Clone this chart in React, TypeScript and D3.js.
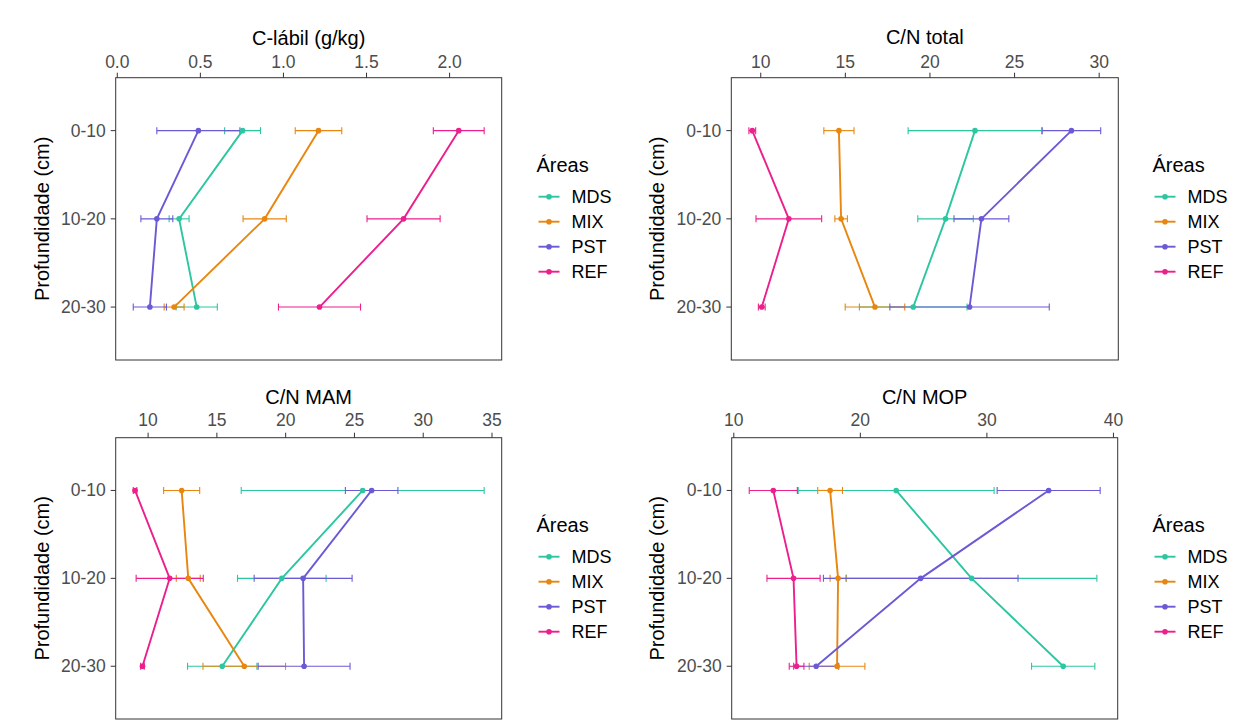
import React from "react";
import * as d3 from "d3";

// Soil depth layers and land-use areas
const depths = ["0-10", "10-20", "20-30"];
const areas = ["MDS", "MIX", "PST", "REF"];
const areaColors = ["#2cc6a0", "#e8860f", "#6a5ad6", "#ec1f8d"];

// Labile carbon (g/kg): means and standard errors per area (MDS, MIX, PST, REF)
const clabilMean = [
  [0.754, 0.372, 0.478],
  [1.211, 0.887, 0.342],
  [0.488, 0.238, 0.196],
  [2.055, 1.723, 1.217],
];
const clabilSe = [
  [0.108, 0.06, 0.124],
  [0.14, 0.13, 0.06],
  [0.25, 0.096, 0.1],
  [0.153, 0.22, 0.247],
];
const clabilTicks = [0, 0.5, 1, 1.5, 2];

// Total C/N ratio
const cnTotalMean = [
  [22.66, 20.92, 19.01],
  [14.62, 14.75, 16.75],
  [28.36, 23.04, 22.34],
  [9.5, 11.66, 10.06],
];
const cnTotalSe = [
  [3.95, 1.64, 3.18],
  [0.89, 0.37, 1.76],
  [1.73, 1.62, 4.71],
  [0.2, 1.94, 0.2],
];
const cnTotalTicks = [10, 15, 20, 25, 30];

// C/N of mineral-associated organic matter
const cnMamMean = [
  [25.6, 19.72, 15.39],
  [12.44, 12.92, 16.99],
  [26.25, 21.27, 21.34],
  [9.05, 11.57, 9.59],
];
const cnMamSe = [
  [8.83, 3.22, 2.52],
  [1.31, 0.87, 3.0],
  [1.91, 3.56, 3.34],
  [0.13, 2.44, 0.13],
];
const cnMamTicks = [10, 15, 20, 25, 30, 35];

// C/N of particulate organic matter
const cnMopMean = [
  [22.83, 28.79, 36.03],
  [17.61, 18.24, 18.16],
  [34.88, 24.77, 16.51],
  [13.12, 14.72, 14.96],
];
const cnMopSe = [
  [7.74, 9.9, 2.5],
  [0.98, 0.63, 2.2],
  [4.07, 7.69, 1.78],
  [1.9, 2.1, 0.58],
];
const cnMopTicks = [10, 20, 30, 40];

const FONT = "'Liberation Sans', Arial, Helvetica, sans-serif";
const TICK_COLOR = "#4d4d4d";

type PanelProps = {
  title: string;
  mean: number[][];
  se: number[][];
  ticks: number[];
  fmt: (v: number) => string;
  left: number;
  top: number;
  width: number;
  height: number;
  titleY: number;
  tickY: number;
  yTitleX: number;
  legendX: number;
};

function Panel(p: PanelProps) {
  const lows: number[] = [];
  const highs: number[] = [];
  p.mean.forEach((row, i) =>
    row.forEach((m, j) => {
      lows.push(m - p.se[i][j]);
      highs.push(m + p.se[i][j]);
    })
  );
  const lo = d3.min(lows) as number;
  const hi = d3.max(highs) as number;
  const pad = (hi - lo) * 0.05;
  const x = d3
    .scaleLinear()
    .domain([lo - pad, hi + pad])
    .range([p.left, p.left + p.width]);
  const y = d3
    .scalePoint<string>()
    .domain(depths)
    .range([p.top, p.top + p.height])
    .padding(0.6);

  const line = d3
    .line<[number, string]>()
    .x((d) => x(d[0]))
    .y((d) => y(d[1]) as number);

  const cap = 3.5;
  const legendTop = p.top + 87.3;

  return (
    <g>
      <text
        x={p.left + p.width / 2}
        y={p.titleY}
        textAnchor="middle"
        dominantBaseline="central"
        fontSize={20}
        fill="#000"
      >
        {p.title}
      </text>
      {p.ticks.map((t) => (
        <g key={t}>
          <line x1={x(t)} x2={x(t)} y1={p.top} y2={p.top - 5} stroke="#333" strokeWidth={1} />
          <text
            x={x(t)}
            y={p.tickY}
            textAnchor="middle"
            dominantBaseline="central"
            fontSize={17.5}
            fill={TICK_COLOR}
          >
            {p.fmt(t)}
          </text>
        </g>
      ))}
      {depths.map((d) => (
        <g key={d}>
          <line
            x1={p.left}
            x2={p.left - 5}
            y1={y(d)}
            y2={y(d)}
            stroke="#333"
            strokeWidth={1}
          />
          <text
            x={p.left - 10}
            y={y(d)}
            textAnchor="end"
            dominantBaseline="central"
            fontSize={17.5}
            fill={TICK_COLOR}
          >
            {d}
          </text>
        </g>
      ))}
      <text
        transform={`translate(${p.yTitleX},${p.top + p.height / 2}) rotate(-90)`}
        textAnchor="middle"
        dominantBaseline="central"
        fontSize={20}
        fill="#000"
      >
        Profundidade (cm)
      </text>

      {/* error bars */}
      {areas.map((a, i) => (
        <g key={a} stroke={areaColors[i]} strokeWidth={1.1}>
          {depths.map((d, j) => {
            const yy = y(d) as number;
            const x0 = x(p.mean[i][j] - p.se[i][j]);
            const x1 = x(p.mean[i][j] + p.se[i][j]);
            return (
              <g key={d}>
                <line x1={x0} x2={x1} y1={yy} y2={yy} />
                <line x1={x0} x2={x0} y1={yy - cap} y2={yy + cap} />
                <line x1={x1} x2={x1} y1={yy - cap} y2={yy + cap} />
              </g>
            );
          })}
        </g>
      ))}
      {/* profiles */}
      {areas.map((a, i) => {
        const pts = depths.map((d, j) => [p.mean[i][j], d] as [number, string]);
        return (
          <g key={a}>
            <path d={line(pts) || ""} fill="none" stroke={areaColors[i]} strokeWidth={1.9} />
            {pts.map((pt) => (
              <circle key={pt[1]} cx={x(pt[0])} cy={y(pt[1])} r={2.8} fill={areaColors[i]} />
            ))}
          </g>
        );
      })}

      <rect
        x={p.left}
        y={p.top}
        width={p.width}
        height={p.height}
        fill="none"
        stroke="#333"
        strokeWidth={1}
      />

      {/* legend */}
      <g>
        <text x={p.legendX} y={legendTop} dominantBaseline="central" fontSize={20} fill="#000">
          Áreas
        </text>
        {areas.map((a, i) => {
          const yy = legendTop + 31.7 + i * 25;
          return (
            <g key={a}>
              <line
                x1={p.legendX + 2}
                x2={p.legendX + 23}
                y1={yy}
                y2={yy}
                stroke={areaColors[i]}
                strokeWidth={1.9}
              />
              <circle cx={p.legendX + 12.5} cy={yy} r={2.8} fill={areaColors[i]} />
              <text
                x={p.legendX + 35}
                y={yy}
                dominantBaseline="central"
                fontSize={18}
                fill="#000"
              >
                {a}
              </text>
            </g>
          );
        })}
      </g>
    </g>
  );
}

export default function App() {
  const fmt1 = (v: number) => d3.format(".1f")(v);
  const fmt0 = (v: number) => d3.format("d")(v);
  return (
    <svg
      width={1258}
      height={727}
      style={{ position: "absolute", left: 0, top: 0, background: "#fff" }}
      fontFamily={FONT}
    >
      <rect x={0} y={0} width={1258} height={727} fill="#fff" />
      <Panel
        title="C-lábil (g/kg)"
        mean={clabilMean}
        se={clabilSe}
        ticks={clabilTicks}
        fmt={fmt1}
        left={115.7}
        top={77.7}
        width={386}
        height={282.3}
        titleY={38}
        tickY={62}
        yTitleX={42}
        legendX={536.5}
      />
      <Panel
        title="C/N total"
        mean={cnTotalMean}
        se={cnTotalSe}
        ticks={cnTotalTicks}
        fmt={fmt0}
        left={731.3}
        top={77.7}
        width={387}
        height={282.3}
        titleY={37}
        tickY={62}
        yTitleX={657}
        legendX={1152.5}
      />
      <Panel
        title="C/N MAM"
        mean={cnMamMean}
        se={cnMamSe}
        ticks={cnMamTicks}
        fmt={fmt0}
        left={115.7}
        top={437.7}
        width={386}
        height={281.3}
        titleY={396.7}
        tickY={420}
        yTitleX={42}
        legendX={536.5}
      />
      <Panel
        title="C/N MOP"
        mean={cnMopMean}
        se={cnMopSe}
        ticks={cnMopTicks}
        fmt={fmt0}
        left={731.7}
        top={437.7}
        width={386}
        height={281.3}
        titleY={396.7}
        tickY={420}
        yTitleX={657}
        legendX={1152.5}
      />
    </svg>
  );
}
